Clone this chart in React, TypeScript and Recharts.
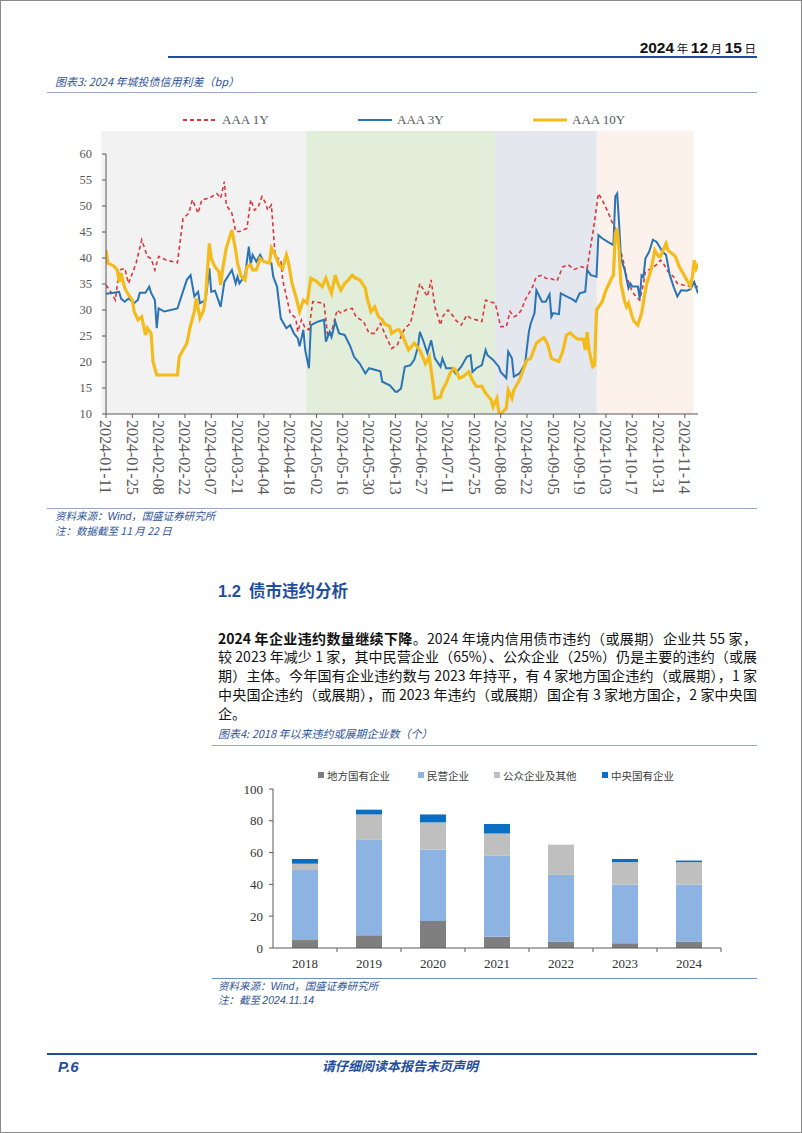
import React from 'react';
import { LineChart, Line, XAxis, YAxis, ReferenceArea, BarChart, Bar } from 'recharts';

// ================= Chart 1 data: 2024 城投债信用利差 (bp) =================
// x = days since 2024-01-11
const START_DATE = '2024-01-11';
const xTickLabels = [
  '2024-01-11', '2024-01-25', '2024-02-08', '2024-02-22', '2024-03-07', '2024-03-21',
  '2024-04-04', '2024-04-18', '2024-05-02', '2024-05-16', '2024-05-30', '2024-06-13',
  '2024-06-27', '2024-07-11', '2024-07-25', '2024-08-08', '2024-08-22', '2024-09-05',
  '2024-09-19', '2024-10-03', '2024-10-17', '2024-10-31', '2024-11-14',
];
const yTicks1 = [10, 15, 20, 25, 30, 35, 40, 45, 50, 55, 60];

const aaa1y: [number, number][] = [
  [0, 34.8], [2, 33.8], [5, 31.9], [7, 37.7], [10, 38.0], [12, 35.1], [16, 39.0], [19, 43.5], [22, 40.3],
  [24, 39.9], [26, 37.7], [28, 40.3], [32, 39.6], [38, 39.1], [41, 47.6], [44, 48.6], [46, 51.2], [49, 48.6],
  [51, 51.2], [55, 51.5], [59, 52.4], [61, 51.5], [63, 54.7], [64, 50.2], [67, 48.6], [69, 45.1], [71, 45.1],
  [75, 45.7], [77, 51.2], [79, 49.2], [81, 49.8], [83, 51.8], [85, 50.5], [86, 49.2], [88, 50.2], [89, 45.4],
  [90, 40.3], [93, 39.6], [94, 35.8], [98, 29.4], [101, 28.4], [102, 25.8], [104, 28.1], [106, 26.5],
  [108, 26.2], [110, 31.6], [116, 31.3], [118, 24.9], [120, 25.8], [123, 30.0], [125, 29.4], [128, 30.1],
  [131, 30.3], [133, 28.7], [137, 27.8], [140, 25.5], [143, 25.5], [146, 27.4], [149, 24.9], [152, 22.6],
  [155, 23.3], [159, 26.5], [162, 27.4], [164, 30.6], [167, 35.1], [170, 33.2], [171, 32.6], [173, 35.8],
  [175, 30.6], [178, 27.1], [179, 28.7], [182, 30.0], [185, 28.7], [186, 28.1], [189, 27.1], [192, 29.0],
  [194, 28.4], [197, 28.1], [200, 27.8], [202, 31.9], [204, 31.6], [207, 31.3], [208, 30.0], [210, 26.8],
  [213, 26.8], [215, 29.7], [217, 28.7], [219, 29.0], [221, 30.0], [223, 31.9], [225, 33.2], [227, 34.5],
  [229, 36.4], [232, 36.7], [234, 36.1], [237, 36.0], [240, 35.6], [243, 38.3], [246, 38.7], [249, 37.8],
  [253, 38.3], [256, 38.0], [257, 40.3], [259, 44.7], [262, 52.4], [264, 51.2], [267, 48.9], [270, 46.3],
  [272, 45.1], [273, 42.2], [275, 39.9], [277, 36.4], [280, 33.5], [282, 32.6], [284, 31.9], [286, 35.1],
  [287, 37.4], [290, 38.0], [293, 38.7], [295, 39.6], [297, 38.7], [299, 37.4], [302, 36.4], [304, 35.1],
  [307, 34.8], [311, 34.5], [315, 34.5],
];

const aaa3y: [number, number][] = [
  [0, 33.1], [4, 33.3], [7, 33.5], [8, 32.2], [10, 31.6], [12, 32.2], [14, 31.6], [15, 31.3], [17, 32.0],
  [18, 33.3], [21, 33.3], [23, 34.5], [24, 33.3], [26, 31.9], [27, 26.5], [28, 30.3], [31, 29.7], [38, 30.3],
  [40, 32.5], [43, 35.8], [45, 36.7], [47, 32.6], [49, 33.5], [50, 31.3], [53, 31.9], [55, 38.0], [56, 33.5],
  [58, 33.7], [61, 30.6], [63, 35.4], [67, 37.7], [69, 35.1], [70, 36.4], [71, 35.1], [74, 36.7], [76, 42.2],
  [77, 38.7], [78, 40.6], [80, 39.3], [82, 40.6], [84, 39.3], [88, 39.0], [89, 36.4], [91, 34.5], [93, 28.4],
  [96, 26.5], [98, 27.1], [100, 25.5], [102, 24.6], [103, 23.0], [105, 26.2], [106, 22.3], [108, 18.8],
  [109, 27.1], [113, 27.8], [116, 28.1], [117, 23.9], [119, 25.8], [120, 24.8], [122, 27.8], [124, 25.5],
  [127, 25.2], [130, 23.0], [132, 21.0], [135, 19.7], [138, 17.8], [140, 18.8], [143, 18.5], [146, 18.2],
  [147, 16.2], [151, 15.5], [154, 14.3], [155, 14.3], [157, 14.9], [159, 19.1], [162, 19.4], [164, 20.4],
  [166, 22.9], [167, 25.8], [169, 23.9], [171, 21.7], [173, 24.2], [175, 20.7], [178, 19.1], [179, 20.7],
  [181, 18.8], [184, 18.8], [186, 17.8], [189, 19.1], [192, 21.0], [194, 21.3], [195, 18.1], [197, 18.8],
  [200, 19.4], [202, 22.3], [203, 21.3], [206, 20.4], [209, 19.1], [210, 18.1], [213, 16.9], [214, 22.0],
  [216, 20.7], [217, 17.2], [220, 17.8], [223, 19.7], [225, 25.8], [226, 27.4], [228, 29.4], [229, 33.8],
  [232, 31.6], [234, 31.6], [236, 33.0], [237, 28.7], [238, 29.4], [241, 29.2], [242, 33.2], [245, 32.6],
  [248, 32.1], [250, 31.6], [252, 33.2], [255, 33.5], [256, 37.7], [258, 36.7], [261, 36.4], [262, 44.4],
  [264, 43.8], [267, 43.1], [270, 42.5], [271, 51.8], [272, 52.4], [273, 46.7], [274, 39.9], [276, 37.7],
  [278, 34.2], [279, 35.1], [280, 34.5], [283, 34.5], [284, 32.2], [285, 36.7], [286, 36.4], [287, 39.9],
  [289, 41.2], [291, 43.5], [293, 43.1], [295, 41.9], [296, 41.2], [298, 40.6], [300, 36.7], [302, 34.5],
  [304, 32.6], [306, 33.8], [309, 33.7], [311, 34.0], [313, 35.4], [315, 33.2],
];

const aaa10y: [number, number][] = [
  [0, 41.5], [1, 39.0], [4, 38.5], [6, 37.7], [7, 35.4], [8, 37.1], [10, 34.2], [12, 32.9], [14, 31.9],
  [15, 29.7], [17, 28.1], [19, 28.7], [21, 25.2], [22, 26.5], [24, 25.5], [25, 20.1], [27, 17.5], [38, 17.5],
  [39, 21.0], [41, 22.3], [43, 23.6], [45, 27.1], [47, 29.7], [48, 32.2], [50, 28.4], [52, 30.0], [53, 32.6],
  [55, 42.8], [56, 39.9], [58, 38.3], [60, 37.4], [61, 34.8], [62, 37.7], [64, 41.9], [67, 45.4], [69, 41.5],
  [70, 39.0], [72, 36.4], [74, 35.8], [75, 38.3], [77, 38.7], [78, 37.7], [80, 37.7], [82, 39.9], [84, 39.3],
  [87, 39.0], [88, 41.9], [90, 40.6], [92, 38.7], [94, 38.0], [96, 40.6], [97, 39.3], [99, 35.1], [101, 32.6],
  [103, 29.7], [105, 31.9], [107, 31.3], [109, 36.1], [112, 35.5], [115, 34.5], [117, 36.1], [120, 33.2],
  [122, 36.7], [123, 35.4], [125, 33.8], [127, 35.1], [129, 35.8], [131, 36.7], [133, 36.1], [135, 35.8],
  [138, 34.2], [139, 32.2], [141, 29.7], [143, 30.6], [145, 28.7], [147, 28.1], [148, 27.4], [151, 26.8],
  [152, 25.5], [155, 26.2], [156, 26.2], [158, 24.9], [161, 22.3], [164, 23.6], [167, 22.3], [170, 19.7],
  [172, 21.0], [174, 15.9], [175, 13.0], [178, 13.3], [179, 14.6], [181, 15.9], [183, 17.8], [185, 18.8],
  [186, 18.5], [188, 16.9], [190, 17.2], [192, 17.8], [193, 18.1], [195, 16.5], [197, 15.3], [200, 15.3],
  [202, 14.0], [205, 12.7], [206, 11.4], [208, 13.0], [209, 10.4], [210, 10.0], [213, 11.1], [214, 14.6],
  [216, 13.0], [217, 14.6], [220, 16.5], [222, 18.5], [224, 20.4], [226, 20.7], [229, 23.6], [231, 24.2],
  [233, 24.7], [235, 23.4], [237, 20.7], [239, 20.4], [241, 20.1], [243, 22.0], [245, 25.2], [247, 25.6],
  [249, 24.9], [251, 24.4], [254, 24.4], [255, 22.3], [256, 25.8], [257, 22.3], [259, 19.1], [260, 19.4],
  [261, 30.0], [264, 31.6], [266, 33.8], [269, 36.1], [270, 36.7], [271, 44.7], [272, 45.7], [273, 41.5],
  [274, 35.1], [276, 31.6], [277, 30.6], [278, 31.3], [280, 28.7], [281, 27.8], [283, 27.1], [285, 29.4],
  [287, 33.8], [288, 35.4], [290, 37.7], [292, 41.5], [294, 40.3], [295, 40.3], [298, 42.8], [299, 41.5],
  [301, 40.9], [303, 40.3], [305, 38.3], [307, 37.1], [309, 35.8], [311, 34.6], [312, 36.4], [313, 39.6],
  [314, 38.0], [315, 38.9],
];

// background periods (days since start)
const bandStartDays = [-2.5, 106.5, 207, 261.2];
const bandEndDays = [106.5, 207, 261.2, 312.6];
const bandFills = ['#f2f2f2', '#e2eed9', '#e4e8ee', '#fdf2eb'];

// ================= Chart 2 data: 2018 年以来违约或展期企业数 =================
const years = ['2018', '2019', '2020', '2021', '2022', '2023', '2024'];
const localSOE = [5, 8, 17, 7, 4, 3, 4];
const privateEnt = [44, 60, 45, 51, 42, 37, 36];
const publicEtc = [4, 16, 17, 14, 19, 14, 14];
const centralSOE = [3, 3, 5, 6, 0, 2, 1];
const yTicks2 = [0, 20, 40, 60, 80, 100];

// ================= helpers =================
const DAY = 86400000;
const t0 = Date.parse(START_DATE);
const dayOf = (s: string) => Math.round((Date.parse(s) - t0) / DAY);
const tickDays = xTickLabels.map(dayOf);
const labelOf = (d: number) => xTickLabels[tickDays.indexOf(d)] ?? '';
const toRows = (arr: [number, number][]) => arr.map(([d, v]) => ({ d, v }));

const lineSeries = [
  { name: 'AAA 1Y', data: toRows(aaa1y), color: '#d8393d', width: 1.6, dash: '4 3' },
  { name: 'AAA 3Y', data: toRows(aaa3y), color: '#2a74b5', width: 2, dash: undefined },
  { name: 'AAA 10Y', data: toRows(aaa10y), color: '#f3bb1c', width: 3.2, dash: undefined },
];

const barData = years.map((y, i) => ({
  year: y,
  local: localSOE[i],
  priv: privateEnt[i],
  pub: publicEtc[i],
  central: centralSOE[i],
}));
const barSeries = [
  { key: 'local', name: '地方国有企业', color: '#7f7f7f' },
  { key: 'priv', name: '民营企业', color: '#8db3e2' },
  { key: 'pub', name: '公众企业及其他', color: '#bfbfbf' },
  { key: 'central', name: '中央国有企业', color: '#0a6fc2' },
];

const SERIF = '"Liberation Serif", "Times New Roman", serif';
const CJK = '"Noto Sans CJK SC", "Noto Sans", sans-serif';
const SANS = '"Liberation Sans", Arial, sans-serif';
const BLUE = '#1f4e9b';
const CAP_BLUE = '#2f5597';

// chart 1 geometry
const C1 = { top: 100, w: 802, h: 430, mt: 54, mr: 104, mb: 16, ml: 56, yw: 50, xh: 100 };
// chart 2 geometry
const C2 = { top: 752, w: 802, h: 230, mt: 37, mr: 81, mb: 8, ml: 233, yw: 40, xh: 26 };
const bandW2 = (C2.w - C2.ml - C2.yw - C2.mr) / years.length;

const RotTick = (props: any) => {
  const { x, y, payload } = props;
  return (
    <text
      transform={`translate(${x},${y}) rotate(90)`}
      x={0}
      y={0}
      dy="0.36em"
      textAnchor="start"
      fontSize={16}
      fontFamily={SERIF}
      fill="#595959"
    >
      {labelOf(payload.value)}
    </text>
  );
};

const YearTick = (props: any) => {
  const { x, y, payload, index } = props;
  const axisY = y - 6;
  return (
    <g>
      {index < years.length && (
        <line x1={x + bandW2 / 2} x2={x + bandW2 / 2} y1={axisY} y2={axisY + 4} stroke="#595959" />
      )}
      <text x={x} y={y + 9} textAnchor="middle" dominantBaseline="central" fontSize={13} fontFamily={SERIF} fill="#333">
        {payload.value}
      </text>
    </g>
  );
};

const abs = (left: number, top: number, extra: React.CSSProperties = {}): React.CSSProperties => ({
  position: 'absolute',
  left,
  top,
  ...extra,
});

const Rule = ({ x1, x2, y, h = 1, color }: { x1: number; x2: number; y: number; h?: number; color: string }) => (
  <div style={abs(x1, y - h / 2, { width: x2 - x1, height: h, background: color })} />
);

const paraLines: { bold?: string; text: string; last?: boolean }[] = [
  { bold: '2024 年企业违约数量继续下降', text: '。2024 年境内信用债市违约（或展期）企业共 55 家，' },
  { text: '较 2023 年减少 1 家，其中民营企业（65%）、公众企业（25%）仍是主要的违约（或展' },
  { text: '期）主体。今年国有企业违约数与 2023 年持平，有 4 家地方国企违约（或展期），1 家' },
  { text: '中央国企违约（或展期），而 2023 年违约（或展期）国企有 3 家地方国企，2 家中央国' },
  { text: '企。', last: true },
];
const PARA_LH = 18.8;

export default function App() {
  const capStyle: React.CSSProperties = {
    fontFamily: CJK,
    fontStyle: 'italic',
    fontSize: 11,
    color: CAP_BLUE,
    lineHeight: '16px',
    whiteSpace: 'nowrap',
  };
  const num: React.CSSProperties = { fontFamily: SANS, fontWeight: 700, fontSize: 15.5 };
  const zh: React.CSSProperties = { fontSize: 11.5 };
  return (
    <div
      style={{
        position: 'absolute',
        left: 0,
        top: 0,
        width: 802,
        height: 1133,
        background: '#fff',
        boxShadow: 'inset 0 0 0 1px #8a8a8a',
        overflow: 'hidden',
        fontFamily: CJK,
      }}
    >
      {/* header */}
      <div style={{ position: 'absolute', right: 46, top: 36, lineHeight: '20px', whiteSpace: 'nowrap', color: '#111' }}>
        <span style={num}>2024</span>
        <span style={zh}> 年 </span>
        <span style={num}>12</span>
        <span style={zh}> 月 </span>
        <span style={num}>15</span>
        <span style={zh}> 日</span>
      </div>
      <Rule x1={168} x2={757} y={57} h={2} color={BLUE} />

      {/* caption 1 */}
      <div style={abs(55, 73, capStyle)}>图表3: 2024 年城投债信用利差（bp）</div>
      <Rule x1={47} x2={757} y={92} color="#9aaac4" />

      {/* chart 1 legend */}
      {lineSeries.map((s, i) => (
        <div key={s.name} style={abs(183 + i * 175, 112, { height: 16, display: 'flex', alignItems: 'center', whiteSpace: 'nowrap' })}>
          <svg width={36} height={6} style={{ display: 'block' }}>
            <line x1={0} x2={34} y1={3} y2={3} stroke={s.color} strokeWidth={s.width === 3.2 ? 3 : 2} strokeDasharray={s.dash} />
          </svg>
          <span style={{ fontFamily: SERIF, fontSize: 13, color: '#595959', marginLeft: 3 }}>{s.name}</span>
        </div>
      ))}

      {/* chart 1 */}
      <div style={abs(0, C1.top)}>
        <LineChart width={C1.w} height={C1.h} margin={{ top: C1.mt, right: C1.mr, bottom: C1.mb, left: C1.ml }}>
          {bandStartDays.map((s, i) => (
            <ReferenceArea
              key={i}
              x1={s}
              x2={bandEndDays[i]}
              y1={10}
              y2={64.4}
              fill={bandFills[i]}
              fillOpacity={1}
              stroke="none"
              ifOverflow="visible"
            />
          ))}
          <XAxis
            type="number"
            dataKey="d"
            domain={[0, 315]}
            ticks={tickDays}
            interval={0}
            height={C1.xh}
            tickSize={4}
            tickMargin={2}
            tick={<RotTick />}
            axisLine={{ stroke: '#595959' }}
            tickLine={{ stroke: '#595959' }}
            allowDataOverflow
          />
          <YAxis
            type="number"
            domain={[10, 60]}
            ticks={yTicks1}
            interval={0}
            width={C1.yw}
            tickSize={4}
            tickMargin={10}
            tick={{ fontSize: 12.5, fill: '#595959', fontFamily: SERIF }}
            axisLine={{ stroke: '#595959' }}
            tickLine={{ stroke: '#595959' }}
            allowDataOverflow
          />
          {lineSeries.map((s) => (
            <Line
              key={s.name}
              data={s.data}
              dataKey="v"
              name={s.name}
              type="linear"
              stroke={s.color}
              strokeWidth={s.width}
              strokeDasharray={s.dash}
              dot={false}
              activeDot={false}
              isAnimationActive={false}
            />
          ))}
        </LineChart>
      </div>

      {/* source 1 */}
      <Rule x1={47} x2={757} y={508} color="#9aaac4" />
      <div style={abs(55, 508, { ...capStyle, fontSize: 10.5 })}>
        资料来源：<span style={{ fontFamily: SANS }}>Wind</span>，国盛证券研究所
      </div>
      <div style={abs(55, 523, { ...capStyle, fontSize: 10.5 })}>注：数据截至 11 月 22 日</div>

      {/* section heading */}
      <div style={abs(218, 579, { lineHeight: '22px', whiteSpace: 'nowrap', color: BLUE, fontWeight: 700 })}>
        <span style={{ fontFamily: SANS, fontSize: 16.5 }}>1.2</span>
        <span style={{ fontFamily: CJK, fontSize: 16.5, marginLeft: 8 }}>债市违约分析</span>
      </div>

      {/* paragraph */}
      <div style={abs(218, 638 - PARA_LH / 2, { width: 539, fontSize: 14, color: '#111', lineHeight: `${PARA_LH}px` })}>
        {paraLines.map((l, i) => (
          <div
            key={i}
            style={{
              whiteSpace: 'nowrap',
              textAlign: l.last ? 'left' : 'justify',
              textAlignLast: l.last ? 'left' : 'justify',
              height: PARA_LH,
            }}
          >
            {l.bold && <b style={{ fontWeight: 700 }}>{l.bold}</b>}
            {l.text}
          </div>
        ))}
      </div>

      {/* caption 2 */}
      <div style={abs(218, 725, capStyle)}>图表4: 2018 年以来违约或展期企业数（个）</div>
      <Rule x1={212} x2={757} y={745} color="#9aaac4" />

      {/* chart 2 legend */}
      {barSeries.map((s, i) => (
        <div
          key={s.key}
          style={abs([318, 418, 494, 602][i], 767, { height: 16, display: 'flex', alignItems: 'center', whiteSpace: 'nowrap' })}
        >
          <div style={{ width: 6, height: 6, background: s.color, marginRight: 3 }} />
          <span style={{ fontFamily: CJK, fontSize: 10.5, color: '#404040' }}>{s.name}</span>
        </div>
      ))}

      {/* chart 2 */}
      <div style={abs(0, C2.top)}>
        <BarChart
          width={C2.w}
          height={C2.h}
          data={barData}
          margin={{ top: C2.mt, right: C2.mr, bottom: C2.mb, left: C2.ml }}
          barSize={26}
        >
          <XAxis
            dataKey="year"
            height={C2.xh}
            interval={0}
            tickSize={4}
            tickMargin={2}
            tickLine={false}
            tick={<YearTick />}
            axisLine={{ stroke: '#595959' }}
          />
          <YAxis
            type="number"
            domain={[0, 100]}
            ticks={yTicks2}
            interval={0}
            width={C2.yw}
            tickSize={4}
            tickMargin={6}
            tick={{ fontSize: 13, fill: '#333', fontFamily: SERIF }}
            axisLine={{ stroke: '#595959' }}
            tickLine={{ stroke: '#595959' }}
          />
          {barSeries.map((s) => (
            <Bar key={s.key} dataKey={s.key} name={s.name} stackId="s" fill={s.color} isAnimationActive={false} />
          ))}
        </BarChart>
      </div>

      {/* source 2 */}
      <Rule x1={212} x2={757} y={978} color="#6f8fc4" />
      <div style={abs(218, 979, { ...capStyle, fontSize: 10.5, lineHeight: '14px' })}>
        资料来源：<span style={{ fontFamily: SANS }}>Wind</span>，国盛证券研究所
      </div>
      <div style={abs(218, 993, { ...capStyle, fontSize: 10.5, lineHeight: '14px' })}>
        注：截至 <span style={{ fontFamily: SANS }}>2024.11.14</span>
      </div>

      {/* footer */}
      <Rule x1={47} x2={757} y={1054} h={1.5} color={BLUE} />
      <div
        style={abs(58, 1058, {
          fontFamily: SANS,
          fontWeight: 700,
          fontStyle: 'italic',
          fontSize: 15,
          color: BLUE,
          lineHeight: '18px',
        })}
      >
        P.6
      </div>
      <div
        style={abs(322, 1057, {
          fontFamily: CJK,
          fontWeight: 700,
          fontStyle: 'italic',
          fontSize: 13,
          color: BLUE,
          lineHeight: '18px',
          whiteSpace: 'nowrap',
        })}
      >
        请仔细阅读本报告末页声明
      </div>
    </div>
  );
}
